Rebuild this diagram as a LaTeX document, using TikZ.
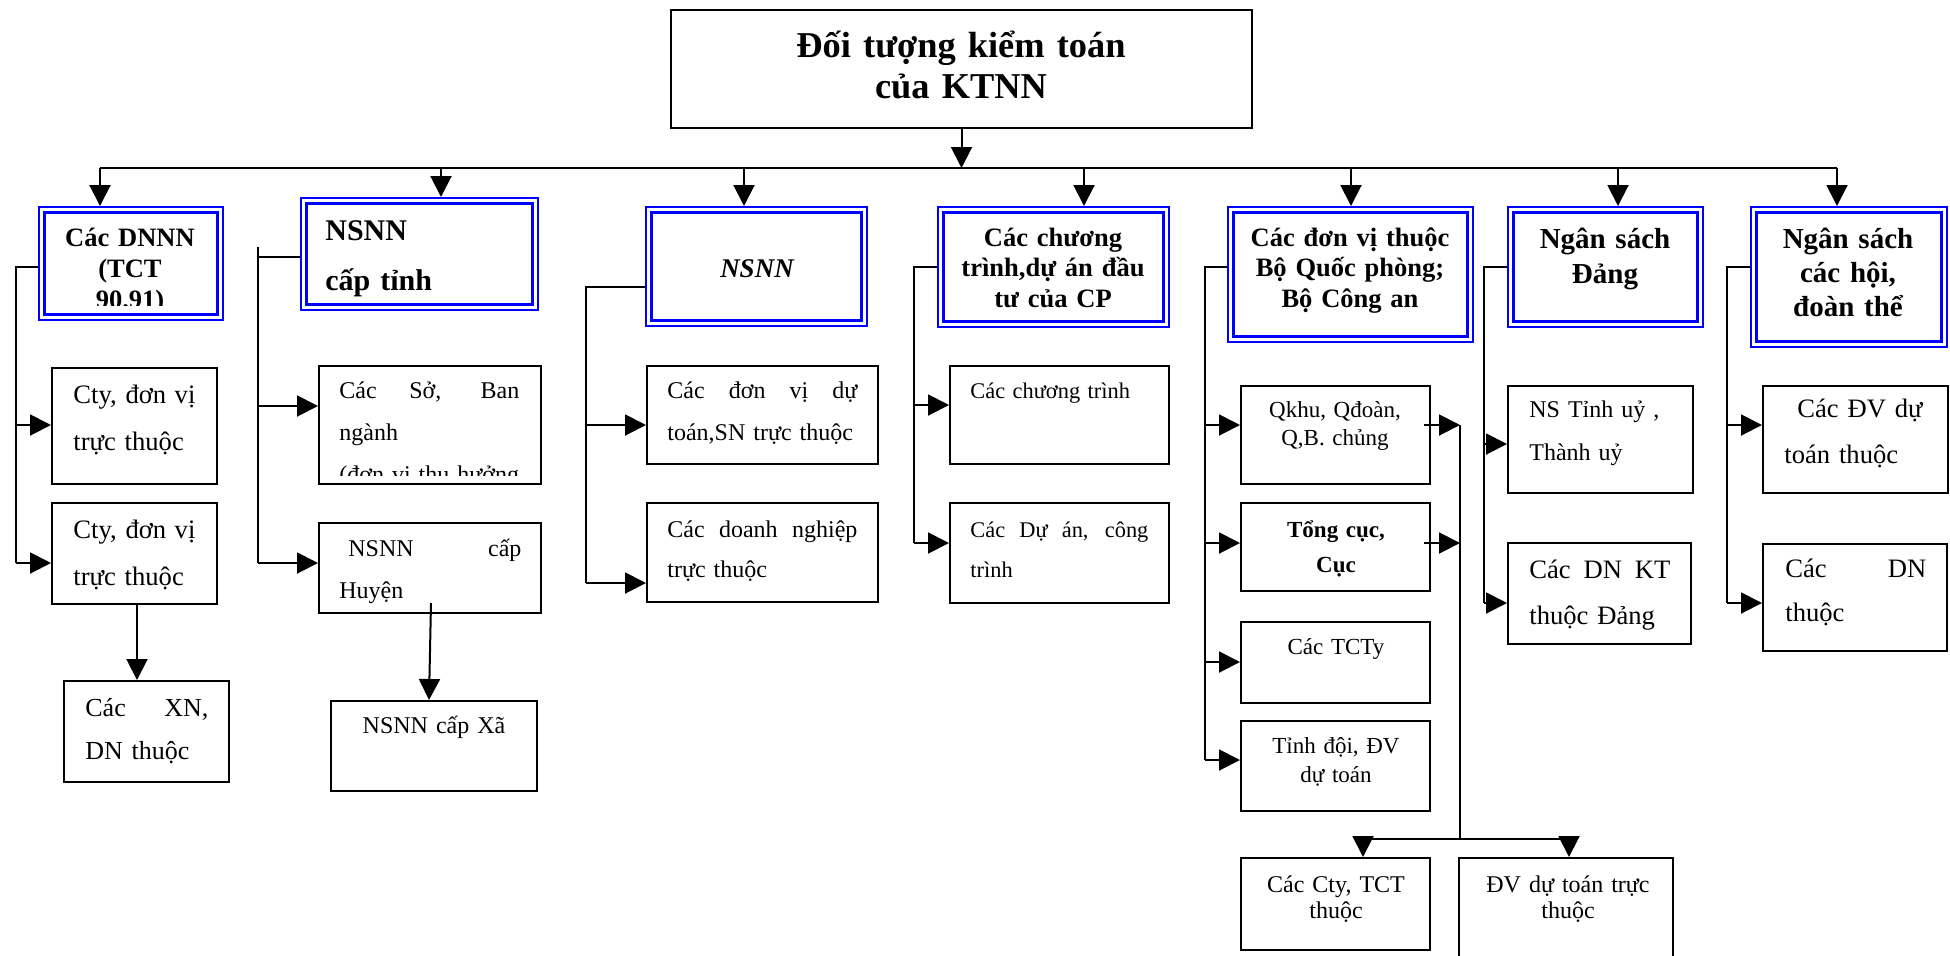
\documentclass[tikz,border=0pt]{standalone}
\usepackage{fontspec}
\setmainfont{Liberation Serif}
\usepackage{tikz}
\usepackage{xcolor}
\usetikzlibrary{arrows.meta, fit}

\definecolor{frameblue}{RGB}{0,0,255}

\tikzset{
    link/.style={line width=1pt},
    arr/.style={line width=1pt, -{Triangle[length=10.5pt,width=10.5pt]}},
    cbox/.style={draw, line width=1pt, inner sep=0pt},
    bbox/.style={draw=frameblue, line width=1pt, inner sep=0pt},
    ltext/.style={inner sep=0pt, anchor=base west, align=left},
    ctext/.style={inner sep=0pt, anchor=base, align=center}
}

% a line spread to the full width (stretchable spaces again)
\newcommand{\spreadline}[1]{\makebox[\hsize][s]{\spaceskip=0pt\relax\xspaceskip=0pt\relax #1}}

\begin{document}
\begin{tikzpicture}[x=0.5pt, y=-0.5pt]

            % Settings
            \def\inset{3.15pt}
            \def\busy{168}

            \useasboundingbox (0,0) rectangle (1950,955);

            % Top box
            \node[cbox, fit={(671,10) (1252,128)}] (top) {};
            \node[ctext, text width=280pt, font=\fontsize{18.2}{20.5}\selectfont\bfseries] (t-top) at (961,57) {Đối tượng kiểm toán\\của KTNN};

            % Blue boxes of the first level
            \foreach \n/\xa/\ya/\xb/\yb in {b1/39/207/223/320, b2/301/198/538/310, b3/646/207/867/326, b4/938/207/1169/327, b5/1228/207/1473/342, b6/1508/207/1703/327, b7/1751/207/1947/347} {
                    % outer frame
                    \node[bbox, fit={(\xa,\ya) (\xb,\yb)}] (\n) {};
                    % inner frame
                    \draw[frameblue, line width=1.5pt] ([shift={(\inset,-\inset)}]\n.north west) rectangle ([shift={(-\inset,\inset)}]\n.south east);
                }

            % Lower boxes
            \foreach \n/\xa/\ya/\xb/\yb in {c1a/52/368/217/484, c1b/52/503/217/604, c1c/64/681/229/782,
                    c2a/319/366/541/484, c2b/319/523/541/613, c2c/331/701/537/791,
                    c3a/647/366/878/464, c3b/647/503/878/602,
                    c4a/950/366/1169/464, c4b/950/503/1169/603,
                    c5a/1241/386/1430/484, c5b/1241/503/1430/591, c5c/1241/622/1430/703, c5d/1241/721/1430/811, c5e/1241/858/1430/950, c5f/1459/858/1673/965,
                    c6a/1508/386/1693/493, c6b/1508/543/1691/644,
                    c7a/1763/386/1948/493, c7b/1763/544/1947/651} {
                    \node[cbox, fit={(\xa,\ya) (\xb,\yb)}] (\n) {};
                }

            % Texts of the first level
            \begin{scope}
                \clip (45,213) rectangle (217,305);
                \node[ctext, text width=85pt, font=\fontsize{13.25}{15.5}\selectfont\bfseries] (t-b1) at (130,246) {Các DNNN\\(TCT\\90.91)};
            \end{scope}
            \node[ltext, text width=100pt, font=\fontsize{15}{25}\selectfont\bfseries] (t-b2) at (325,240) {NSNN\\cấp tỉnh};
            \node[ctext, text width=100pt, font=\fontsize{13.5}{16}\selectfont\bfseries\itshape] (t-b3) at (757,277) {NSNN};
            \node[ctext, text width=110pt, font=\fontsize{13.25}{15.25}\selectfont\bfseries] (t-b4) at (1053,246) {Các chương\\trình,dự án đầu\\tư của CP};
            \node[ctext, text width=118pt, font=\fontsize{13.25}{15.25}\selectfont\bfseries] (t-b5) at (1350,246) {Các đơn vị thuộc\\Bộ Quốc phòng;\\Bộ Công an};
            \node[ctext, text width=92pt, font=\fontsize{14.5}{17.5}\selectfont\bfseries] (t-b6) at (1605,248) {Ngân sách\\Đảng};
            \node[ctext, text width=92pt, font=\fontsize{14.5}{17}\selectfont\bfseries] (t-b7) at (1848,248) {Ngân sách\\các hội,\\đoàn thể};

            % Texts of the lower boxes
            \node[ltext, text width=61pt, font=\fontsize{13.3}{23.5}\selectfont] (t-c1a) at (73,403) {\spreadline{Cty, đơn vị}\\trực thuộc};
            \node[ltext, text width=61pt, font=\fontsize{13.3}{23.5}\selectfont] (t-c1b) at (73,538) {\spreadline{Cty, đơn vị}\\trực thuộc};
            \node[ltext, text width=61.5pt, font=\fontsize{13}{21.5}\selectfont] (t-c1c) at (85,716) {\spreadline{Các XN,}\\DN thuộc};
            \begin{scope}
                \clip (320,367) rectangle (540,475);
                \node[ltext, text width=90pt, font=\fontsize{12}{21}\selectfont] (t-c2a) at (339,398) {\spreadline{Các Sở, Ban}\\ngành\\\mbox{(đơn vị thu hưởng}};
            \end{scope}
            \node[ltext, text width=91pt, font=\fontsize{12}{21}\selectfont] (t-c2b) at (339,556) {\spreadline{\hspace*{4.5pt}NSNN cấp}\\Huyện};
            \node[ctext, text width=95pt, font=\fontsize{12}{21}\selectfont] (t-c2c) at (434,733) {NSNN cấp Xã};
            \node[ltext, text width=95pt, font=\fontsize{12}{21}\selectfont] (t-c3a) at (667,398) {\spreadline{Các đơn vị dự}\\toán,SN trực thuộc};
            \node[ltext, text width=95pt, font=\fontsize{12}{20}\selectfont] (t-c3b) at (667,537) {\spreadline{Các doanh nghiệp}\\trực thuộc};
            \node[ltext, text width=89pt, font=\fontsize{11.2}{20}\selectfont] (t-c4a) at (970,398) {Các chương trình};
            \node[ltext, text width=89pt, font=\fontsize{11.2}{20}\selectfont] (t-c4b) at (970,537) {\spreadline{Các Dự án, công}\\trình};
            \node[ctext, text width=90pt, font=\fontsize{11.5}{14}\selectfont] (t-c5a) at (1335,417) {Qkhu, Qđoàn,\\Q,B. chủng};
            \node[ctext, text width=90pt, font=\fontsize{11.5}{17.5}\selectfont\bfseries] (t-c5b) at (1336,537) {Tổng cục,\\Cục};
            \node[ctext, text width=90pt, font=\fontsize{11.5}{14}\selectfont] (t-c5c) at (1336,654) {Các TCTy};
            \node[ctext, text width=90pt, font=\fontsize{11.5}{14.5}\selectfont] (t-c5d) at (1336,753) {Tỉnh đội, ĐV\\dự toán};
            \node[ctext, text width=90pt, font=\fontsize{12}{13.3}\selectfont] (t-c5e) at (1336,892) {Các Cty, TCT\\thuộc};
            \node[ctext, text width=100pt, font=\fontsize{12}{13.3}\selectfont] (t-c5f) at (1568,892) {ĐV dự toán trực\\thuộc};
            \node[ltext, text width=80pt, font=\fontsize{12}{21.5}\selectfont] (t-c6a) at (1529,417) {NS Tỉnh uỷ ,\\Thành uỷ};
            \node[ltext, text width=70.5pt, font=\fontsize{13.3}{23}\selectfont] (t-c6b) at (1529,578) {\spreadline{Các DN KT}\\thuộc Đảng};
            \node[ltext, text width=80pt, font=\fontsize{13.3}{23}\selectfont] (t-c7a) at (1784,417) {\hspace*{6.5pt}Các ĐV dự\\toán thuộc};
            \node[ltext, text width=70.5pt, font=\fontsize{13.3}{22}\selectfont] (t-c7b) at (1785,577) {\spreadline{Các DN}\\thuộc};

            % Top box down to the bus
            \draw[arr] (top.south) -- (top.south |- 0,\busy);
            \draw[link] (100,\busy) -- (1837,\busy);
            \foreach \n/\x in {b1/100, b2/441, b3/744, b4/1084, b5/1351, b6/1618, b7/1837}
                \draw[arr] (\x,\busy) -- (\n.north -| \x,0);

            % Trunks on the left of each column
            \foreach \n/\x/\ya/\yb in {b1/16/267/563, b2/258/257/563, b3/586/287/583, b4/914/267/543, b5/1205/267/760, b6/1484/267/603, b7/1727/267/603}
                \draw[link] (\n.west |- 0,\ya) -| (\x,\yb);
            \draw[link] (258,247) -- (258,257);

            % Arrows into the lower boxes
            \foreach \x/\n/\y in {16/c1a/425, 16/c1b/563, 258/c2a/406, 258/c2b/563, 586/c3a/425, 586/c3b/583, 914/c4a/405, 914/c4b/543, 1205/c5a/425, 1205/c5b/543, 1205/c5c/662, 1205/c5d/760, 1484/c6a/444, 1484/c6b/603, 1727/c7a/425, 1727/c7b/603}
                \draw[arr] (\x,\y) -- (\n.west |- 0,\y);

            % Second level down
            \draw[arr] (c1b.south -| 137,0) -- (c1c.north -| 137,0);
            \draw[arr] (431,603) -- (c2c.north -| 429,0);

            % Right side of column 5
            \coordinate (r5) at (1460,839);
            \draw[arr] (c5a.east |- 0,425) ++(-3.5pt,0) -- (r5 |- 0,425);
            \draw[arr] (c5b.east |- 0,543) ++(-3.5pt,0) -- (r5 |- 0,543);
            \draw[link] (r5 |- 0,425) -- (r5);
            \draw[link] (1363,839) -- (1569,839);
            \draw[arr] (1363,839) -- (c5e.north -| 1363,0);
            \draw[arr] (1569,839) -- (c5f.north -| 1569,0);

\end{tikzpicture}
\end{document}
